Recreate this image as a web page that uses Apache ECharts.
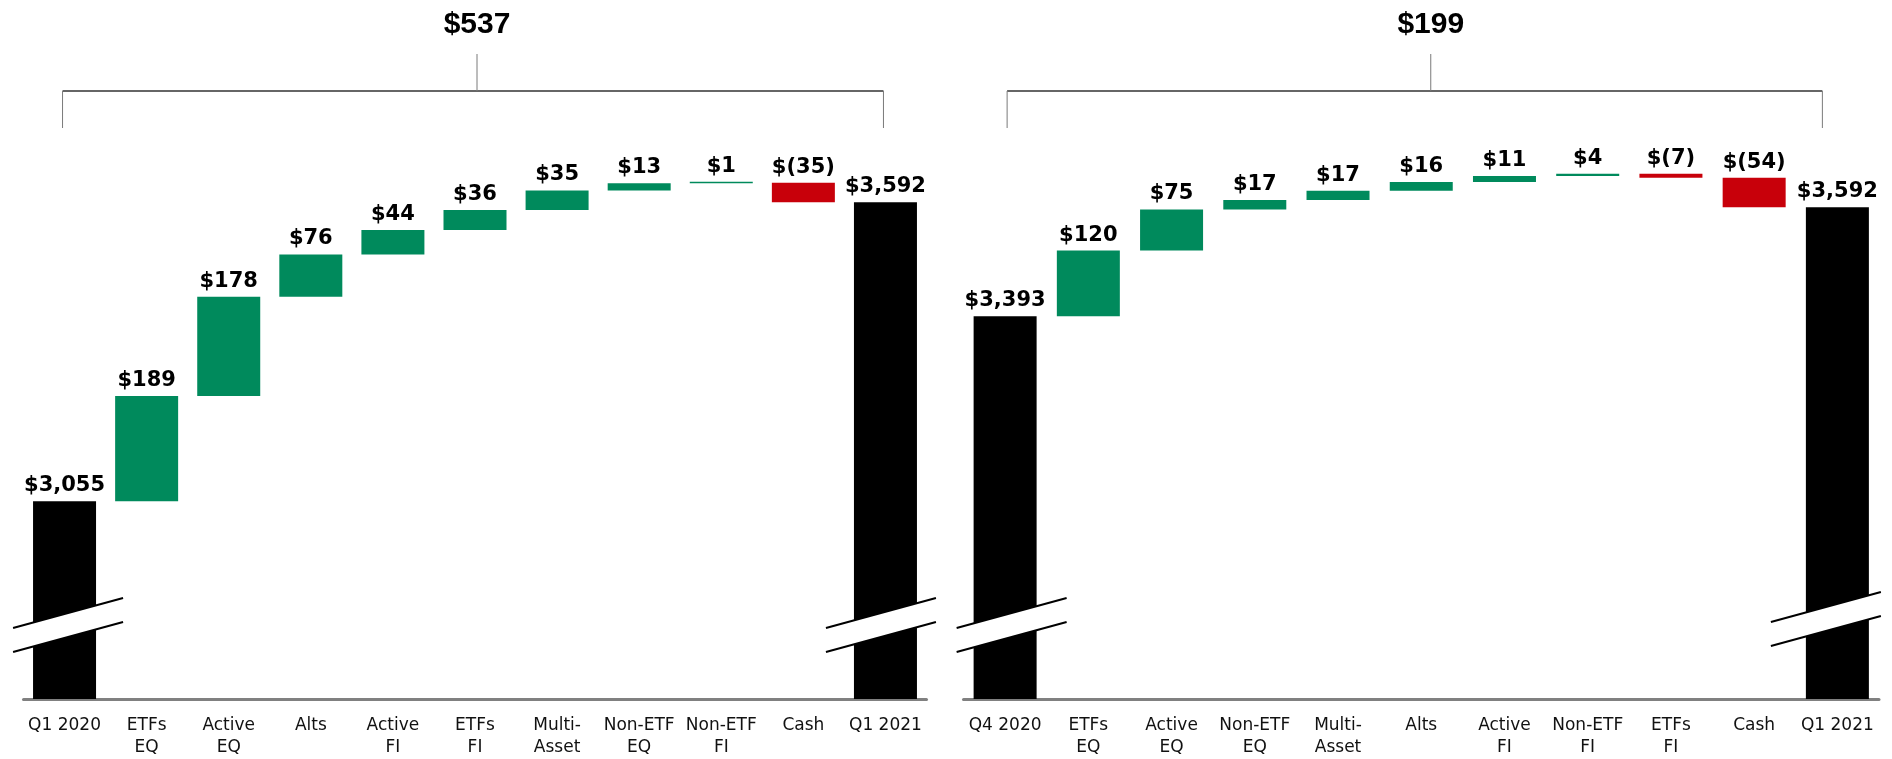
<!DOCTYPE html>
<html>
<head>
<meta charset="utf-8">
<script src="https://cdn.jsdelivr.net/npm/echarts@6/dist/echarts.min.js"></script>
<style>
html,body{margin:0;padding:0;background:#fff;}
#c{width:1892px;height:759px;}
</style>
</head>
<body>
<div id="c"></div>
<script>
// ---- data ----
const leftCategories = ['Q1 2020','ETFs\nEQ','Active\nEQ','Alts','Active\nFI','ETFs\nFI','Multi-\nAsset','Non-ETF\nEQ','Non-ETF\nFI','Cash','Q1 2021'];
const leftValues = [3055, 189, 178, 76, 44, 36, 35, 13, 1, -35, 3592];
const leftChangeLabel = '$537';

const rightCategories = ['Q4 2020','ETFs\nEQ','Active\nEQ','Non-ETF\nEQ','Multi-\nAsset','Alts','Active\nFI','Non-ETF\nFI','ETFs\nFI','Cash','Q1 2021'];
const rightValues = [3393, 120, 75, 17, 17, 16, 11, 4, -7, -54, 3592];
const rightChangeLabel = '$199';

const yMinLeft = 2700, yMaxLeft = 3700;
const yMinRight = 2695, yMaxRight = 3711;

const GREEN = '#008A5C', RED = '#C8000A', BLACK = '#000000';

function fmt(v){
  const a = Math.abs(v).toLocaleString('en-US');
  return v < 0 ? '$(' + a + ')' : '$' + a;
}

function build(values, yMin){
  const base = [], delta = [];
  let cum = 0;
  const n = values.length;
  values.forEach((v, i) => {
    if (i === 0 || i === n - 1) {
      base.push(yMin);
      delta.push({value: v - yMin, itemStyle: {color: BLACK}});
      cum = v;
    } else if (v >= 0) {
      base.push(cum);
      delta.push({value: v, itemStyle: {color: GREEN}});
      cum += v;
    } else {
      cum += v;
      base.push(cum);
      delta.push({value: -v, itemStyle: {color: RED}});
    }
  });
  return {base, delta};
}

const L = build(leftValues, yMinLeft);
const R = build(rightValues, yMinRight);

const chart = echarts.init(document.getElementById('c'), null, {renderer: 'canvas'});

const axisLabelStyle = {
  fontFamily: 'DejaVu Sans', fontSize: 17, color: '#111', lineHeight: 22, margin: 16, interval: 0
};

function labelCfg(values){
  return {
    show: true, position: 'top', distance: 5,
    fontFamily: 'DejaVu Sans', fontWeight: 'bold', fontSize: 21, color: '#000',
    formatter: p => fmt(values[p.dataIndex])
  };
}

const option = {
  animation: false,
  backgroundColor: '#fff',
  grid: [
    {left: 23.5, width: 903, top: 142, height: 559},
    {left: 963.5, width: 915.5, top: 142, height: 559}
  ],
  xAxis: [
    {type: 'category', gridIndex: 0, data: leftCategories,
     axisLine: {lineStyle: {color: '#808080', width: 3}}, axisTick: {show: false}, axisLabel: axisLabelStyle},
    {type: 'category', gridIndex: 1, data: rightCategories,
     axisLine: {lineStyle: {color: '#808080', width: 3}}, axisTick: {show: false}, axisLabel: axisLabelStyle}
  ],
  yAxis: [
    {type: 'value', gridIndex: 0, min: yMinLeft, max: yMaxLeft, show: false, splitLine: {show: false}},
    {type: 'value', gridIndex: 1, min: yMinRight, max: yMaxRight, show: false, splitLine: {show: false}}
  ],
  series: [
    {type: 'bar', xAxisIndex: 0, yAxisIndex: 0, stack: 'L', data: L.base, barWidth: 63,
     itemStyle: {color: 'rgba(0,0,0,0)'}, silent: true},
    {type: 'bar', xAxisIndex: 0, yAxisIndex: 0, stack: 'L', data: L.delta, barWidth: 63, barMinHeight: 1.5,
     label: labelCfg(leftValues)},
    {type: 'bar', xAxisIndex: 1, yAxisIndex: 1, stack: 'R', data: R.base, barWidth: 63,
     itemStyle: {color: 'rgba(0,0,0,0)'}, silent: true},
    {type: 'bar', xAxisIndex: 1, yAxisIndex: 1, stack: 'R', data: R.delta, barWidth: 63, barMinHeight: 1.5,
     label: labelCfg(rightValues)}
  ]
};
chart.setOption(option);

// ---- decorations: brackets and axis-break marks ----
function px(gi, idx, val){
  return chart.convertToPixel({xAxisIndex: gi, yAxisIndex: gi}, [idx, val]);
}
const graphics = [];
const lineGray = {stroke: '#7a7a7a', lineWidth: 1};

function bracket(gi, values, yMin, text, leftInset, rightInset, tickDx){
  const n = values.length;
  const a = px(gi, 0, yMin), b = px(gi, n - 1, yMin);
  const x0 = a[0] + leftInset, x1 = b[0] - rightInset;
  const yH = 91, yDrop = 128, yTop = 54;
  const xm = (x0 + x1) / 2 + tickDx;
  graphics.push({type: 'line', shape: {x1: x0, y1: yH, x2: x1, y2: yH}, style: {stroke: '#666', lineWidth: 2}, silent: true});
  graphics.push({type: 'line', shape: {x1: x0, y1: yH, x2: x0, y2: yDrop}, style: lineGray, silent: true});
  graphics.push({type: 'line', shape: {x1: x1, y1: yH, x2: x1, y2: yDrop}, style: lineGray, silent: true});
  graphics.push({type: 'line', shape: {x1: xm, y1: yTop, x2: xm, y2: yH}, style: lineGray, silent: true});
  graphics.push({type: 'text', x: xm, y: 25, style: {text: text, fill: '#000', font: 'bold 30px "Liberation Sans Narrow", "Liberation Sans", sans-serif', align: 'center', verticalAlign: 'middle'}, silent: true});
}
bracket(0, leftValues, yMinLeft, leftChangeLabel, -2, 2, 4);
bracket(1, rightValues, yMinRight, rightChangeLabel, 2, 15, 16);

function brk(gi, idx, yMin, dx, dy){
  const p = px(gi, idx, yMin);
  const cx = p[0] + dx, yb = p[1] + dy;
  const xa = cx - 55, xb = cx + 55;
  const ua = yb - 71, ub = yb - 101, la = yb - 47, lb = yb - 77;
  graphics.push({type: 'polygon', shape: {points: [[xa, ua], [xb, ub], [xb, lb], [xa, la]]}, style: {fill: '#fff'}, silent: true, z: 100});
  graphics.push({type: 'line', shape: {x1: xa, y1: ua, x2: xb, y2: ub}, style: {stroke: '#000', lineWidth: 2}, silent: true, z: 101});
  graphics.push({type: 'line', shape: {x1: xa, y1: la, x2: xb, y2: lb}, style: {stroke: '#000', lineWidth: 2}, silent: true, z: 101});
}
brk(0, 0, yMinLeft, 3.5, 0);
brk(0, leftValues.length - 1, yMinLeft, -4.5, 0);
brk(1, 0, yMinRight, 6.5, 0);
brk(1, rightValues.length - 1, yMinRight, -11.5, -6);

chart.setOption({graphic: graphics});
</script>
</body>
</html>
